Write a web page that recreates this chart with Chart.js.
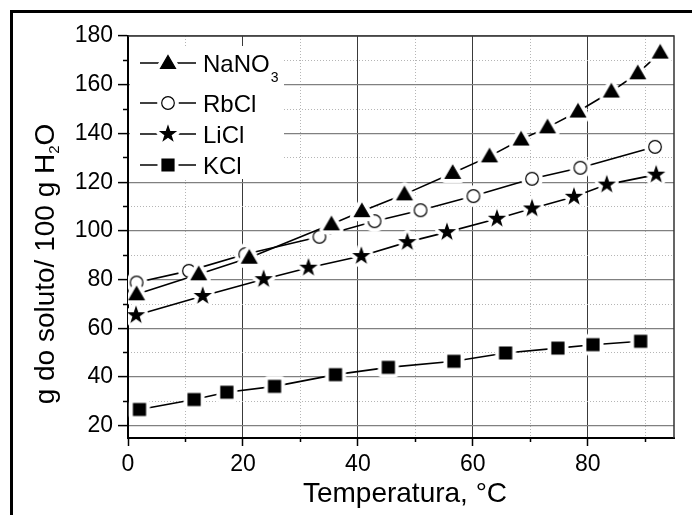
<!DOCTYPE html>
<html>
<head>
<meta charset="utf-8">
<script src="https://cdn.jsdelivr.net/npm/chart.js@4.4.1/dist/chart.umd.min.js"></script>
<style>
    html, body { margin: 0; padding: 0; background: #fff; }
    #wrap { width: 692px; height: 515px; }
</style>
</head>
<body>
<div id="wrap"><canvas id="chart" width="692" height="515"></canvas></div>
<script>
// temperatura (°C) e solubilidade (g / 100 g H2O)
const nano3Temp = [1.5, 12.3, 21.1, 35.4, 40.7, 48.1, 56.5, 62.9, 68.4, 73.0, 78.3, 84.1, 88.7, 92.6];
const nano3Sol  = [74.0, 82.2, 89.0, 102.7, 108.1, 115.0, 123.8, 130.6, 137.5, 142.5, 149.0, 157.2, 164.7, 173.2];
const rbclTemp  = [1.5, 10.6, 20.4, 33.3, 42.9, 50.9, 60.1, 70.3, 78.7, 91.7];
const rbclSol   = [78.8, 83.6, 90.4, 97.6, 104.0, 108.5, 114.3, 121.4, 125.9, 134.5];
const liclTemp  = [1.4, 13.0, 23.6, 31.4, 40.6, 48.6, 55.5, 64.2, 70.3, 77.6, 83.3, 91.9];
const liclSol   = [65.4, 73.3, 80.2, 84.9, 89.7, 95.4, 99.5, 105.0, 109.2, 114.0, 119.0, 123.1];
const kclTemp   = [2.0, 11.5, 17.2, 25.5, 36.1, 45.3, 56.7, 65.7, 74.8, 80.9, 89.2];
const kclSol    = [26.7, 30.8, 33.8, 36.2, 41.0, 44.0, 46.5, 49.9, 51.9, 53.3, 54.7];

const xMajor = [0, 20, 40, 60, 80];
const xMinor = [10, 30, 50, 70, 90];
const yMajor = [20, 40, 60, 80, 100, 120, 140, 160, 180];
const yMinor = [30, 50, 70, 90, 110, 130, 150, 170];

const FONT = "'Liberation Sans', Arial, sans-serif";
Chart.defaults.font.family = FONT;
Chart.defaults.color = "#000";

function toPoints(xs, ys) {
    return xs.map((x, i) => ({ x, y: ys[i] }));
}

// marcador com um halo branco, para a linha parar antes do símbolo
function makeMarker(kind) {
    const size = 32;
    const c = document.createElement("canvas");
    c.width = c.height = size;
    const g = c.getContext("2d");
    g.translate(size / 2, size / 2);
    const path = () => {
        g.beginPath();
        if (kind === "triangle") {
            g.moveTo(0, -7.5); g.lineTo(7.5, 5.5); g.lineTo(-7.5, 5.5); g.closePath();
        } else if (kind === "circle") {
            g.arc(0, 0, 6.3, 0, Math.PI * 2);
        } else if (kind === "star") {
            for (let i = 0; i < 10; i++) {
                const r = i % 2 ? 3.1 : 7.8;
                const a = -Math.PI / 2 + i * Math.PI / 5;
                g.lineTo(r * Math.cos(a), r * Math.sin(a));
            }
            g.closePath();
        } else {
            g.rect(-6, -6, 12, 12);
        }
    };
    path();
    g.fillStyle = "#fff"; g.strokeStyle = "#fff"; g.lineWidth = 9; g.lineJoin = "round";
    g.stroke(); g.fill();
    path();
    g.fillStyle = kind === "circle" ? "#fff" : "#000";
    g.fill();
    g.strokeStyle = "#000"; g.lineWidth = 1.2; g.lineJoin = "miter";
    g.stroke();
    return c;
}

const series = [
    { label: "NaNO", sub: "3", data: toPoints(nano3Temp, nano3Sol), marker: makeMarker("triangle"), legendY: 63 },
    { label: "RbCl", sub: "", data: toPoints(rbclTemp, rbclSol), marker: makeMarker("circle"), legendY: 103 },
    { label: "LiCl", sub: "", data: toPoints(liclTemp, liclSol), marker: makeMarker("star"), legendY: 134 },
    { label: "KCl", sub: "", data: toPoints(kclTemp, kclSol), marker: makeMarker("square"), legendY: 165 },
];

const decor = {
    id: "decor",
    beforeDatasetsDraw(chart) {
        const ctx = chart.ctx;
        const a = chart.chartArea;
        ctx.save();
        // caixa da legenda por cima da grelha
        ctx.fillStyle = "#fff";
        ctx.fillRect(a.left + 2, 46, 154, 133);
        // moldura superior e direita
        ctx.strokeStyle = "#333";
        ctx.lineWidth = 1.5;
        ctx.beginPath();
        ctx.moveTo(a.left, a.top);
        ctx.lineTo(a.right, a.top);
        ctx.lineTo(a.right, a.bottom);
        ctx.stroke();
        ctx.restore();
    },
    afterDraw(chart) {
        const ctx = chart.ctx;
        ctx.save();
        // borda exterior (só topo e esquerda)
        ctx.strokeStyle = "#000";
        ctx.lineWidth = 3;
        ctx.beginPath();
        ctx.moveTo(11.5, 515);
        ctx.lineTo(11.5, 11.5);
        ctx.lineTo(692, 11.5);
        ctx.stroke();

        // legenda
        series.forEach(s => {
            const y = s.legendY;
            ctx.strokeStyle = "#000";
            ctx.lineWidth = 1.5;
            ctx.beginPath();
            ctx.moveTo(140, y);
            ctx.lineTo(196, y);
            ctx.stroke();
            ctx.drawImage(s.marker, 168 - s.marker.width / 2, y - s.marker.height / 2);
            ctx.fillStyle = "#000";
            ctx.textAlign = "left";
            ctx.textBaseline = "alphabetic";
            ctx.font = "24px " + FONT;
            ctx.fillText(s.label, 203, y + 8.5);
            if (s.sub) {
                const w = ctx.measureText(s.label).width;
                ctx.font = "14px " + FONT;
                ctx.fillText(s.sub, 203 + w + 1, y + 19);
            }
        });

        // título do eixo x
        ctx.font = "28px " + FONT;
        ctx.textAlign = "center";
        ctx.fillText("Temperatura, °C", 405, 502);

        // título do eixo y, com o 2 em índice
        const parts = [["g do soluto/ 100 g H", 28, 0], ["2", 15, 5], ["O", 28, 0]];
        let total = 0;
        parts.forEach(p => { ctx.font = p[1] + "px " + FONT; total += ctx.measureText(p[0]).width; });
        ctx.translate(54, 264);
        ctx.rotate(-Math.PI / 2);
        ctx.textAlign = "left";
        let x = -total / 2;
        parts.forEach(p => {
            ctx.font = p[1] + "px " + FONT;
            ctx.fillText(p[0], x, p[2]);
            x += ctx.measureText(p[0]).width;
        });
        ctx.restore();
    }
};

new Chart(document.getElementById("chart"), {
    type: "line",
    data: {
        datasets: series.map(s => ({
            label: s.label + s.sub,
            data: s.data,
            borderColor: "#000",
            borderWidth: 1.6,
            tension: 0,
            fill: false,
            pointStyle: s.marker,
            pointRadius: 7,
            xAxisID: "x",
            yAxisID: "y",
        })),
    },
    options: {
        responsive: false,
        animation: false,
        events: [],
        layout: { padding: { left: 0, top: 36, right: 18, bottom: 0 } },
        plugins: { legend: { display: false }, tooltip: { enabled: false } },
        scales: {
            x: {
                type: "linear", position: "bottom", min: 0, max: 95, weight: 1,
                afterBuildTicks: s => { s.ticks = xMajor.map(v => ({ value: v })); },
                afterFit: s => { s.height = 77; },
                grid: { color: "#3a3a3a", lineWidth: 1, tickLength: 8, tickColor: "#000", tickWidth: 1.5 },
                border: { color: "#000", width: 2 },
                ticks: { color: "#000", font: { size: 23 }, padding: 5, maxRotation: 0, autoSkip: false },
            },
            xMinor: {
                type: "linear", position: "bottom", min: 0, max: 95, weight: 0,
                afterBuildTicks: s => { s.ticks = xMinor.map(v => ({ value: v })); },
                afterFit: s => { s.height = 0; },
                grid: { color: "#b5b5b5", lineWidth: 1, tickLength: 4, tickColor: "#000", tickWidth: 1.5 },
                border: { display: false, dash: [1, 2] },
                ticks: { display: false },
            },
            y: {
                type: "linear", position: "left", min: 15, max: 180, weight: 1,
                afterBuildTicks: s => { s.ticks = yMajor.map(v => ({ value: v })); },
                afterFit: s => { s.width = 128; },
                grid: { color: "#808080", lineWidth: 1.2, tickLength: 10, tickColor: "#000", tickWidth: 1.5 },
                border: { color: "#000", width: 2 },
                ticks: { color: "#000", font: { size: 23 }, padding: 5, autoSkip: false },
            },
            yMinor: {
                type: "linear", position: "left", min: 15, max: 180, weight: 0,
                afterBuildTicks: s => { s.ticks = yMinor.map(v => ({ value: v })); },
                afterFit: s => { s.width = 0; },
                grid: { color: "#b5b5b5", lineWidth: 1, tickLength: 5, tickColor: "#000", tickWidth: 1.5 },
                border: { display: false, dash: [1, 2] },
                ticks: { display: false },
            },
        },
    },
    plugins: [decor],
});
</script>
</body>
</html>
